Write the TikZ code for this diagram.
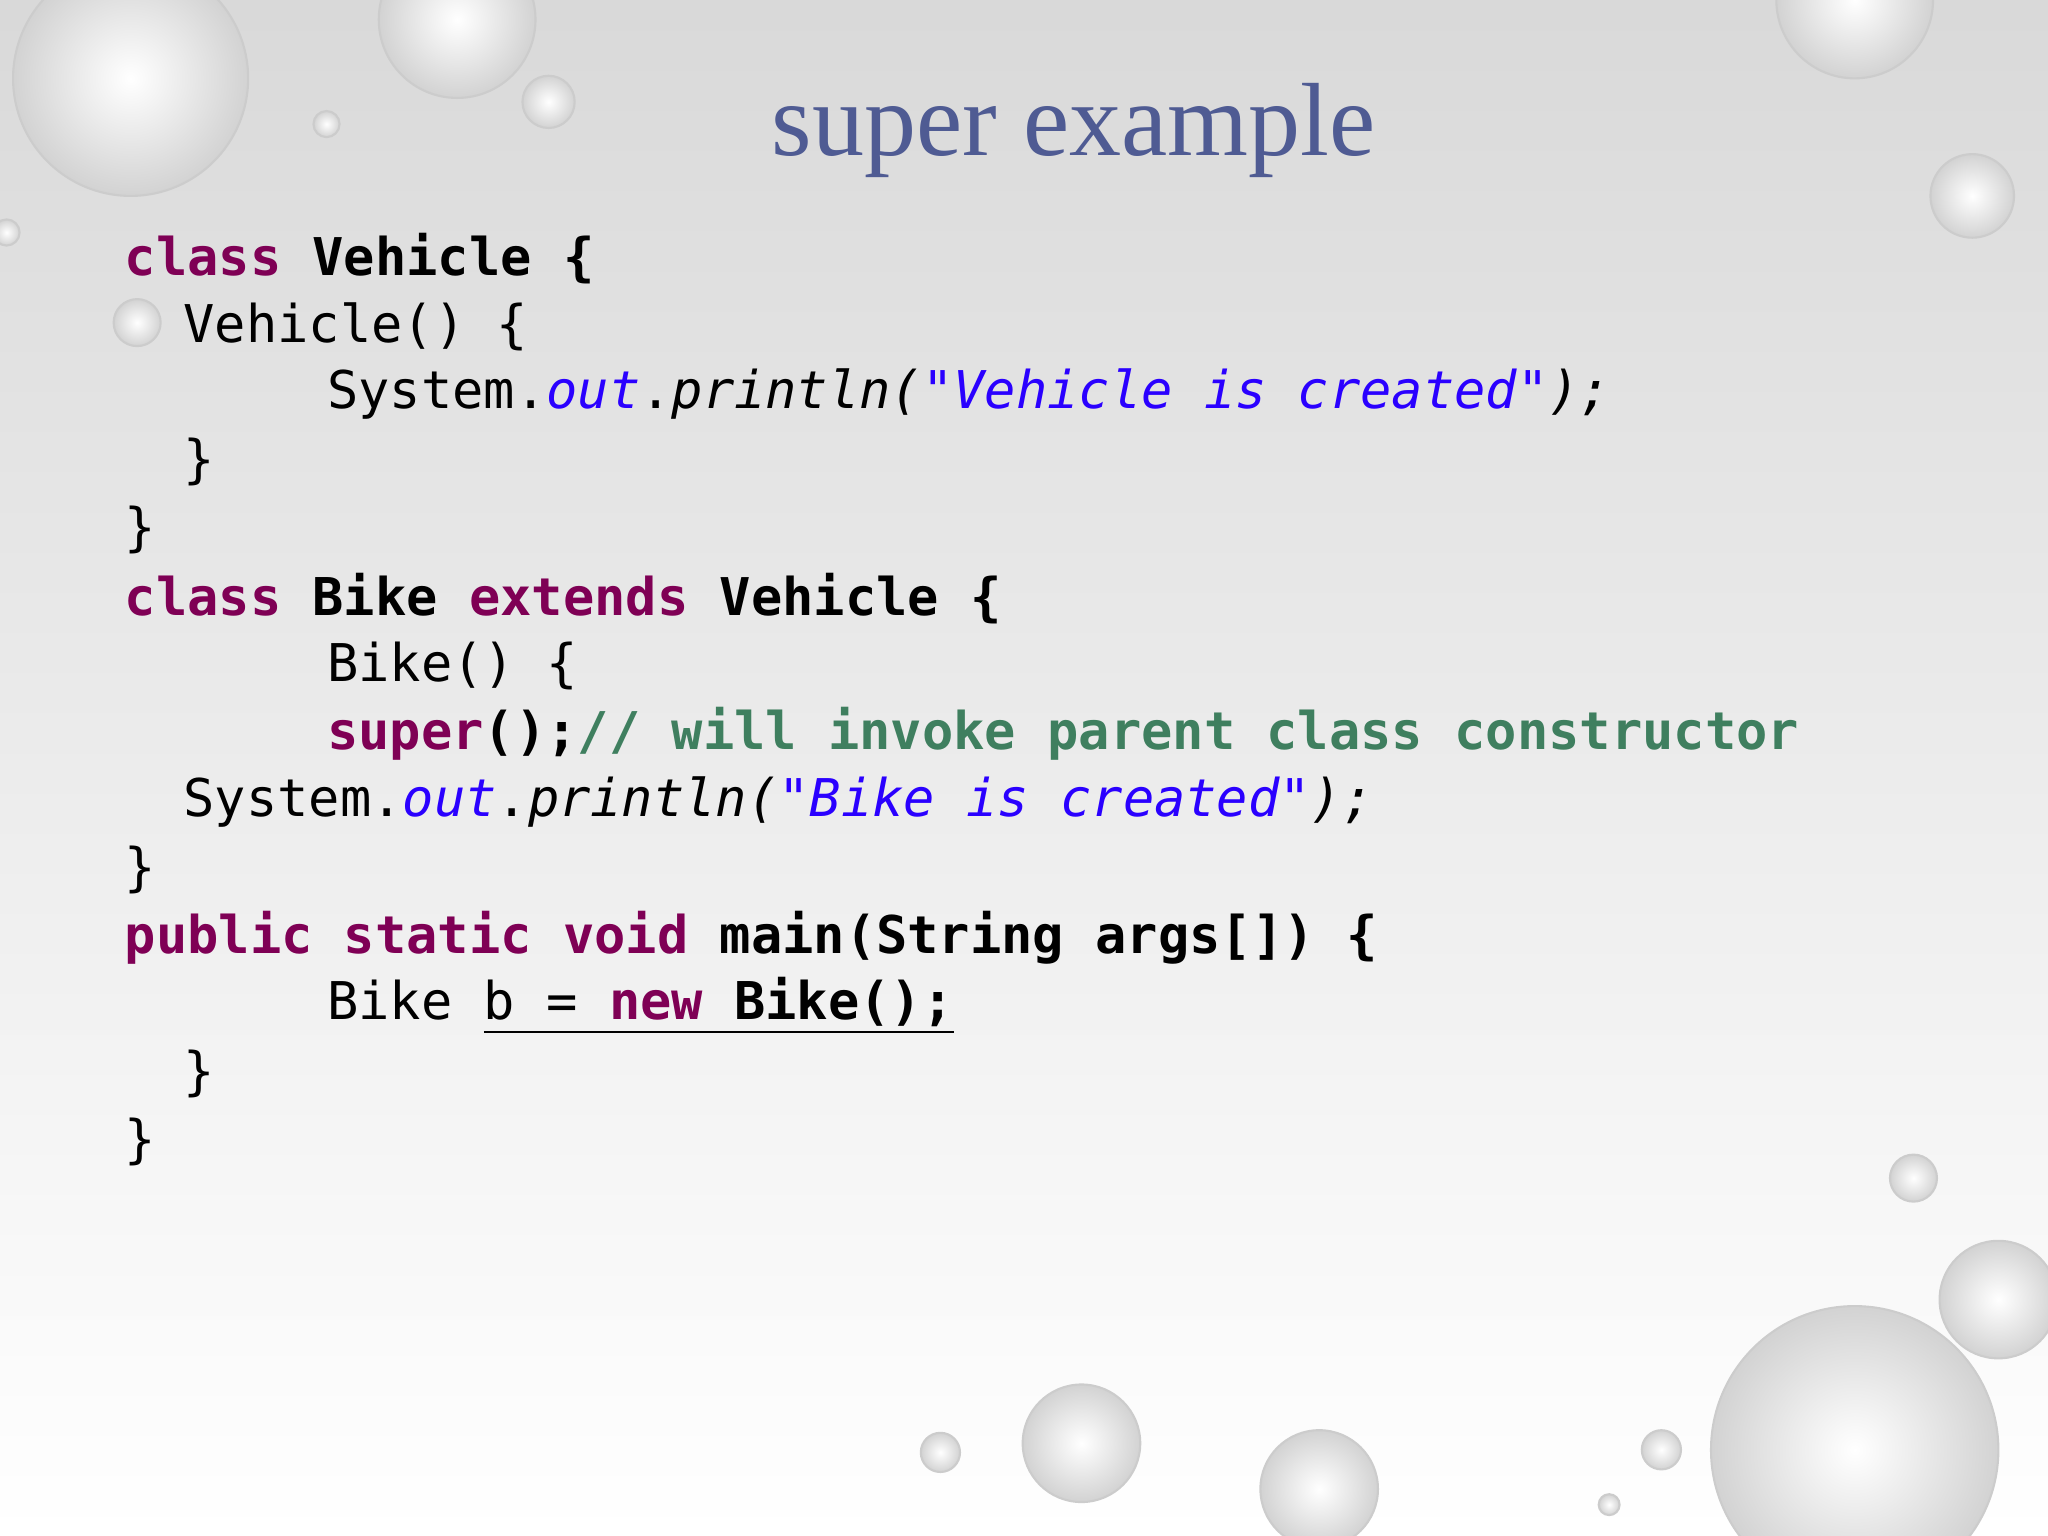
\documentclass[tikz,border=0pt]{standalone}
\usepackage{fontspec}
\setmainfont{Liberation Serif}
\setmonofont{DejaVu Sans Mono}
\definecolor{kw}{HTML}{7F0055}
\definecolor{st}{HTML}{2A00FF}
\definecolor{cm}{HTML}{3F7F5F}
\definecolor{ttl}{HTML}{4F5B93}
\newcommand{\K}[1]{\textcolor{kw}{\textbf{#1}}}
\newcommand{\B}[1]{\textbf{#1}}
\newcommand{\I}[1]{\textcolor{st}{\textit{#1}}}
\newcommand{\J}[1]{\textit{#1}}
\begin{document}
\begin{tikzpicture}[x=0.013061cm,y=-0.013061cm,
  code/.style={anchor=west,inner sep=0pt,font=\ttfamily\fontsize{14.8}{17}\selectfont},
  drop/.style={inner color=white,outer color=gray!35,draw=gray!40,line width=0.6pt}]
\shade[top color=gray!30,bottom color=white] (0,0) rectangle (1568,1176);
\useasboundingbox (0,0) rectangle (1568,1176);
\foreach \x/\y/\r in {100/60/90,350/15/60,420/78/20,250/95/10,1510/150/32,1420/0/60,1465/902/18,1530/995/45,1420/1110/110,828/1105/45,1010/1140/45,720/1112/15,1272/1110/15,1232/1152/8,105/247/18,5/178/10}
  \shade[drop] (\x,\y) circle (\r);
\node[font=\fontsize{29.6}{34}\selectfont,text=ttl] (title) at (822,100) {super example};
\node[code] (l1) at (95,198) {\K{class} \B{Vehicle \{}};
\node[code] (l2) at (140,250) {Vehicle() \{};
\node[code] (l3) at (250,302) {System.\I{out}.\J{println(}\I{"Vehicle is created"}\J{);}};
\node[code] (l4) at (140,354) {\}};
\node[code] (l5) at (95,406) {\}};
\node[code] (l6) at (95,458) {\K{class} \B{Bike} \K{extends} \B{Vehicle \{}};
\node[code] (l7) at (250,510) {Bike() \{};
\node[code] (l8) at (250,562) {\K{super}\B{();}\textcolor{cm}{\textbf{// will invoke parent class constructor}}};
\node[code] (l9) at (140,614) {System.\I{out}.\J{println(}\I{"Bike is created"}\J{);}};
\node[code] (l10) at (95,666) {\}};
\node[code] (l11) at (95,718) {\K{public} \K{static} \K{void} \B{main(String args[]) \{}};
\node[code] (l12) at (250,770) {Bike \underline{b = \K{new} \B{Bike();}}};
\node[code] (l13) at (140,822) {\}};
\node[code] (l14) at (95,874) {\}};
\end{tikzpicture}
\end{document}
